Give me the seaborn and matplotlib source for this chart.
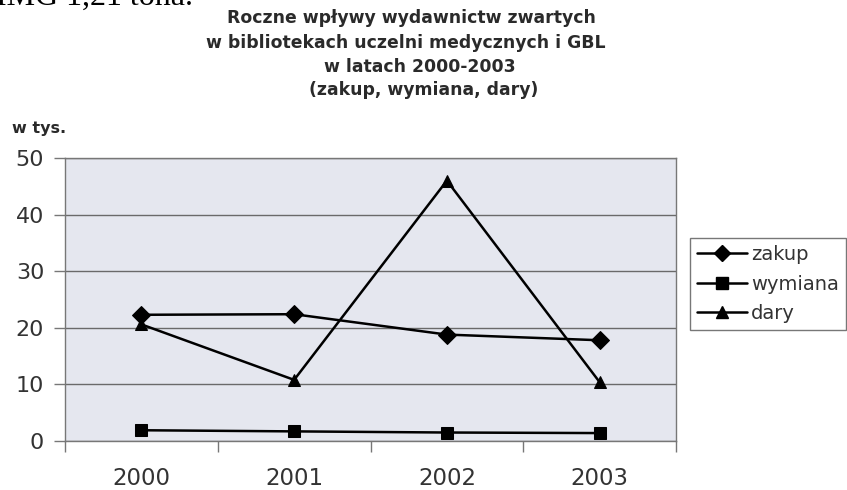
import matplotlib
matplotlib.use("Agg")
import matplotlib.pyplot as plt
import seaborn as sns
import pandas as pd
from matplotlib.ticker import FixedLocator, NullFormatter
from matplotlib.lines import Line2D

# ---- data ----
years = [2000, 2001, 2002, 2003]
zakup = [22.3, 22.4, 18.8, 17.8]
wymiana = [1.9, 1.7, 1.5, 1.4]
dary = [20.6, 10.8, 46.0, 10.4]
series_names = ["zakup", "wymiana", "dary"]
title_lines = [
    "Roczne wpływy wydawnictw zwartych",
    "w bibliotekach uczelni medycznych i GBL",
    "w latach 2000-2003",
    "(zakup, wymiana, dary)",
]
y_ticks = [0, 10, 20, 30, 40, 50]
unit_label = "w tys."

df = pd.DataFrame({
    "rok": years * 3,
    "wartosc": zakup + wymiana + dary,
    "seria": [series_names[0]] * 4 + [series_names[1]] * 4 + [series_names[2]] * 4,
})

sns.set_theme(style="white")
plt.rcParams["font.family"] = ["DejaVu Sans"]

W, H = 847, 490
fig = plt.figure(figsize=(W / 100, H / 100), dpi=100, facecolor="white")
ax = fig.add_axes([65 / W, 1 - 441 / H, (676 - 65) / W, (441 - 158) / H])
ax.set_facecolor("#e5e7ef")

sns.lineplot(
    data=df, x="rok", y="wartosc", style="seria",
    markers={"zakup": "D", "wymiana": "s", "dary": "^"},
    dashes=False, color="black", linewidth=1.8,
    markersize=9, markeredgecolor="black", markerfacecolor="black",
    ax=ax, legend=False,
)

ax.set_xlim(1999.5, 2003.5)
ax.set_ylim(0, 50)
ax.set_xlabel("")
ax.set_ylabel("")

# gridlines
ax.yaxis.set_major_locator(FixedLocator(y_ticks))
ax.grid(axis="y", color="#6a6a6a", linewidth=1.0)
ax.grid(axis="x", visible=False)
ax.set_axisbelow(True)

# x ticks: boundaries as tick marks, labels at centers
ax.xaxis.set_major_locator(FixedLocator([1999.5, 2000.5, 2001.5, 2002.5, 2003.5]))
ax.xaxis.set_major_formatter(NullFormatter())
ax.xaxis.set_minor_locator(FixedLocator(years))
ax.set_xticklabels([str(y) for y in years], minor=True)
ax.tick_params(axis="x", which="major", direction="out", length=8, width=1,
               color="#777777", bottom=True)
ax.tick_params(axis="x", which="minor", length=0, pad=19, labelsize=16.5,
               labelcolor="#333333")
ax.tick_params(axis="y", which="major", direction="out", length=8, width=1,
               color="#777777", left=True, pad=7, labelsize=16,
               labelcolor="#333333")

for s in ax.spines.values():
    s.set_color("#777777")
    s.set_linewidth(1.0)

# legend
handles = [
    Line2D([], [], color="black", lw=1.8, marker="D", markersize=8),
    Line2D([], [], color="black", lw=1.8, marker="s", markersize=8),
    Line2D([], [], color="black", lw=1.8, marker="^", markersize=9),
]
leg = fig.legend(handles, series_names, loc="upper left",
                 bbox_to_anchor=(690 / W, 1 - 238 / H),
                 fontsize=14, frameon=True, fancybox=False,
                 handlelength=2.6, handletextpad=0.2, labelspacing=0.55,
                 borderpad=0.35, borderaxespad=0)
leg.get_frame().set_edgecolor("#555555")
leg.get_frame().set_linewidth(1.0)
for t in leg.get_texts():
    t.set_color("#333333")

# title lines
centers = [(411, 18), (406, 43), (420, 67), (424, 90)]
for line, (cx, cy) in zip(title_lines, centers):
    fig.text(cx / W, 1 - cy / H, line, ha="center", va="center",
             fontsize=12.4, fontweight="bold", color="#2a2a2a")

fig.text(12 / W, 1 - 128 / H, unit_label, ha="left", va="center",
         fontsize=11.5, fontweight="bold", color="#2a2a2a")

# clipped scan text at top-left (only its bottom edge is visible)
fig.text(-4 / W, 1 - 5 / H, "IMG 1,21 tona.", ha="left", va="baseline",
         fontsize=23, family="Liberation Serif", color="black")

fig.savefig("out.png", dpi=100, facecolor="white")
